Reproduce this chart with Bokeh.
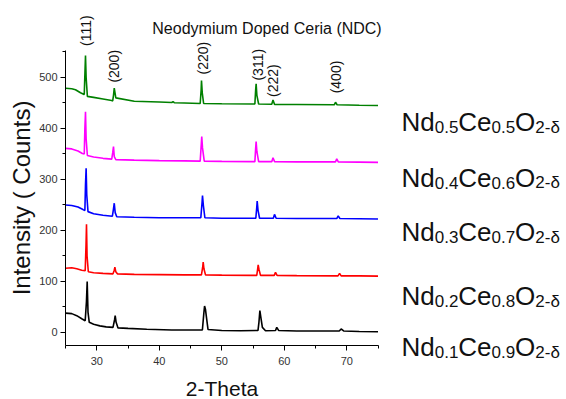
import math
from bokeh.plotting import figure
from bokeh.models import Label, SingleIntervalTicker
from bokeh.embed import file_html
from bokeh.resources import INLINE

# ---------------- data ----------------
x_nd01 = [25, 26, 26.8, 27.6, 28.15, 28.35, 28.47, 28.6, 28.8, 29.5, 30.5, 31.5, 32.6, 32.85, 32.95, 33.1, 33.4,
          35, 38, 42, 46.9, 47.15, 47.25, 47.4, 47.55, 47.8, 50, 53, 55.8, 55.95, 56.1, 56.25, 56.5, 57,
          58.6, 58.8, 59.1, 62, 68.8, 69.1, 69.5, 72, 75]
y_nd01 = [38, 37, 33, 27, 23, 60, 100, 40, 20, 16, 13, 11, 10, 25, 33, 20, 9,
          8, 6.5, 5, 5, 40, 52, 45, 30, 6, 4, 3.5, 4, 20, 43, 30, 10, 3.5,
          4, 10, 4, 3, 3, 7, 3, 2, 1.5]

x_nd02 = [25, 26, 26.8, 27.6, 28.15, 28.28, 28.36, 28.45, 28.65, 29.5, 31, 32.6, 32.8, 32.9, 33.05, 33.3,
          36, 40, 44, 46.75, 46.95, 47.03, 47.15, 47.4, 50, 55, 55.6, 55.75, 55.83, 55.95, 56.2,
          58.4, 58.6, 58.85, 62, 68.6, 68.85, 69.1, 72, 75]
y_nd02 = [126, 127, 125, 122, 121, 170, 212, 150, 119, 117, 116, 115, 122, 128, 119, 115,
          114, 113.5, 113, 113, 128, 138, 125, 113, 112.5, 112, 112, 125, 132.5, 124, 112,
          112, 118, 112, 111.5, 111, 116, 111, 111, 110.5]

x_nd03 = [25, 26, 27, 27.8, 28.1, 28.2, 28.3, 28.4, 28.6, 29.5, 31, 32.5, 32.65, 32.8, 32.95, 33.2,
          36, 40, 44, 46.65, 46.85, 46.92, 47.05, 47.3, 50, 55, 55.45, 55.6, 55.67, 55.8, 56.05,
          58.25, 58.44, 58.7, 62, 68.4, 68.63, 68.9, 72, 75]
y_nd03 = [250, 249, 246, 241, 239, 290, 322, 270, 237, 233, 230, 228, 240, 253.5, 235, 227,
          226, 225, 225, 225, 255, 268.5, 250, 225, 224, 224, 224, 245, 257.5, 240, 224,
          224, 231.5, 224, 223.5, 223.5, 228.8, 223.5, 223, 222.5]

x_nd04 = [25, 26, 27, 27.7, 28.0, 28.1, 28.2, 28.3, 28.5, 29.5, 31, 32.4, 32.55, 32.68, 32.8, 33.05,
          36, 40, 44, 46.55, 46.72, 46.8, 46.92, 47.2, 50, 55, 55.3, 55.42, 55.5, 55.62, 55.9,
          58.0, 58.2, 58.45, 62, 68.2, 68.4, 68.65, 72, 75]
y_nd04 = [361, 360, 356, 351, 350, 400, 433, 380, 347, 344, 341.5, 340, 352, 364.5, 345, 339,
          338, 337, 336.5, 336, 368, 384, 362, 336, 335.5, 335, 335, 360, 374.5, 355, 335,
          335, 342.5, 335, 334.5, 334.5, 340.5, 334.5, 334, 333.5]

x_nd05 = [25, 26, 26.6, 27.4, 27.9, 28.0, 28.1, 28.2, 28.3, 28.5, 29.5, 31, 32.4, 32.55, 32.68, 32.8, 33.05,
          36, 40, 42.0, 42.2, 42.4, 44, 46.55, 46.7, 46.76, 46.88, 47.1, 50, 55, 55.3, 55.42, 55.5, 55.62, 55.9,
          58.0, 58.2, 58.45, 62, 68.0, 68.2, 68.45, 72, 75]
y_nd05 = [479, 478, 476, 470, 467, 467, 505, 543, 500, 463, 461, 458, 455, 454, 465, 479, 460,
          453.5, 452, 451, 452.5, 450.5, 450, 449, 475, 494, 470, 449, 448.5, 448, 448, 475, 487.5, 465, 448,
          447.5, 456, 447, 447, 446.5, 451.5, 446.5, 445.5, 445]

series_colors = ["#000000", "#ff0000", "#0000ff", "#ff00ff", "#008000"]
nd_frac = ["0.1", "0.2", "0.3", "0.4", "0.5"]
ce_frac = ["0.9", "0.8", "0.7", "0.6", "0.5"]

hkl_labels = ["(111)", "(200)", "(220)", "(311)", "(222)", "(400)"]
hkl_x = [28.33, 32.8, 46.97, 55.72, 58.2, 68.25]
hkl_y = [592, 522, 538, 525, 494, 501]

x_axis_span = (25, 75)
y_axis_span = (-25.5, 553)
x_ticks_interval = 10
y_ticks_interval = 100

# ---------------- figure ----------------
# The frame fills the whole canvas; the axes are pinned at the corner of the data area,
# so that texts placed around the data area are not clipped.
FONT = "Liberation Sans"
W, H = 566, 399
px_x, px_y = 6.25, 0.51            # pixels per data unit
left_px, bottom_px = 65, 345       # where the axes cross, in canvas pixels
x0 = x_axis_span[0] - left_px / px_x
y0 = y_axis_span[0] - (H - bottom_px) / px_y
p = figure(width=W, height=H, x_range=(x0, x0 + W / px_x), y_range=(y0, y0 + H / px_y),
           output_backend="svg", toolbar_location=None, title=None,
           min_border=0, min_border_left=0, min_border_right=0, min_border_top=0, min_border_bottom=0)
p.outline_line_color = None
p.grid.visible = False
p.background_fill_color = "white"
p.border_fill_color = "white"

p.xaxis.ticker = SingleIntervalTicker(interval=x_ticks_interval, num_minor_ticks=2)
p.yaxis.ticker = SingleIntervalTicker(interval=y_ticks_interval, num_minor_ticks=2)
p.xaxis.fixed_location = y_axis_span[0]
p.yaxis.fixed_location = x_axis_span[0]
p.xaxis.bounds = x_axis_span
p.yaxis.bounds = y_axis_span
for ax in (p.xaxis, p.yaxis):
    ax.axis_line_color = "black"
    ax.axis_line_width = 1
    ax.major_tick_line_color = "black"
    ax.minor_tick_line_color = "black"
    ax.major_tick_in = 0
    ax.major_tick_out = 5
    ax.minor_tick_in = 0
    ax.minor_tick_out = 3
    ax.major_label_text_font = FONT
    ax.major_label_text_font_size = "11px"
    ax.major_label_text_color = "#333333"
    ax.axis_label_text_font = FONT
    ax.axis_label_text_font_style = "normal"
    ax.axis_label_text_color = "#111111"
p.xaxis.major_label_standoff = 6
p.yaxis.major_label_standoff = 3
p.xaxis.axis_label = "2-Theta"
p.xaxis.axis_label_text_font_size = "21px"
p.xaxis.axis_label_standoff = 9
p.yaxis.axis_label = "Intensity ( Counts)"
p.yaxis.axis_label_text_font_size = "24px"
p.yaxis.axis_label_standoff = 1

xs = [x_nd01, x_nd02, x_nd03, x_nd04, x_nd05]
ys = [y_nd01, y_nd02, y_nd03, y_nd04, y_nd05]
for xv, yv, c in zip(xs, ys, series_colors):
    assert len(xv) == len(yv)
    p.line(xv, yv, line_color=c, line_width=1.6)

# title
p.add_layout(Label(x=57.24, y=596, text="Neodymium Doped Ceria (NDC)", text_font=FONT,
                   text_font_size="16px", text_color="#111111", text_align="center",
                   text_baseline="alphabetic"))

# hkl labels
for t, hx, hy in zip(hkl_labels, hkl_x, hkl_y):
    p.add_layout(Label(x=hx, y=hy, text=t, text_font=FONT, text_font_size="14px",
                       text_color="#111111", text_align="center", text_baseline="middle",
                       angle=math.pi / 2))

# formula labels
row_y = [-29.4, 70.6, 196.1, 303.9, 411.8]
lab_x = 78.76
for ndv, cev, ry in zip(nd_frac, ce_frac, row_y):
    pieces = [("Nd", 0, "26px", 0), (ndv, 33.2, "17px", -5), ("Ce", 56.8, "26px", 0),
              (cev, 90.0, "17px", -5), ("O", 113.6, "26px", 0), ("2-δ", 133.8, "17px", -5)]
    for txt, dx, fs, dy in pieces:
        p.add_layout(Label(x=lab_x, y=ry, x_offset=dx, y_offset=dy, text=txt, text_font=FONT,
                           text_font_size=fs, text_color="#111111", text_align="left",
                           text_baseline="alphabetic"))

open("out.html", "w").write(file_html(p, INLINE))
